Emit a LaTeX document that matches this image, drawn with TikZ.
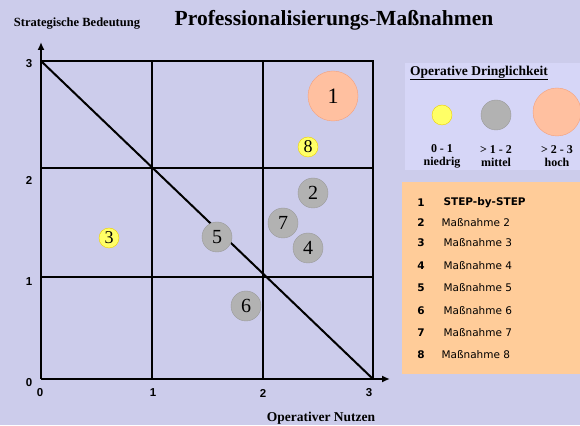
\documentclass[tikz,border=0pt]{standalone}
\usepackage{fontspec}
\setmainfont{Liberation Serif}
\newfontfamily\listfont{DejaVu Sans}
\newfontfamily\tickfont{Liberation Sans}
\usepackage{tikz}
\usetikzlibrary{arrows.meta}

\definecolor{bg}{HTML}{CCCCEB}
\definecolor{legendbg}{HTML}{D6D6F7}
\definecolor{peach}{HTML}{FFCC99}
\definecolor{orangefill}{HTML}{FFC0A0}
\definecolor{orangeedge}{HTML}{F4A07C}
\definecolor{yellowfill}{HTML}{FFFF66}
\definecolor{yellowedge}{HTML}{EED000}
\definecolor{greyfill}{HTML}{B2B2B2}
\definecolor{greyedge}{HTML}{9A9A9A}

\begin{document}
\begin{tikzpicture}[x = 1pt, y = 1pt,
  gridline/.style = {line width = 2pt},
  tick/.style = {font = \tickfont\bfseries\fontsize{11.5}{11.5}\selectfont},
  lowdot/.style = {circle, fill = yellowfill, draw = yellowedge, minimum size = 20pt, inner sep = 0pt, font = \fontsize{18}{18}\selectfont},
  middot/.style = {circle, fill = greyfill, draw = greyedge, minimum size = 30pt, inner sep = 0pt, font = \fontsize{20}{20}\selectfont},
  highdot/.style = {circle, fill = orangefill, draw = orangeedge, minimum size = 50pt, inner sep = 0pt, font = \fontsize{22}{22}\selectfont},
  legendtext/.style = {font = \bfseries\fontsize{12}{12}\selectfont, align = center},
  nr/.style = {font = \listfont\bfseries\fontsize{10.5}{10.5}\selectfont},
  item/.style = {anchor = west, font = \listfont\fontsize{10.5}{10.5}\selectfont}]
\fill [bg] (0,0) rectangle (580,425);
\useasboundingbox (0,0) rectangle (580,425);

% titles
\node (title) at (334, 405) {\bfseries\fontsize{21.5}{21.5}\selectfont Professionalisierungs-Maßnahmen};
\node (ylabel) at (77, 401) {\bfseries\fontsize{12.5}{12.5}\selectfont Strategische Bedeutung};
\node (xlabel) at (321, 7) {\bfseries\fontsize{13.5}{13.5}\selectfont Operativer Nutzen};

% grid
\draw [gridline] (41,364) -- (373,364) -- (373,46);
\draw [gridline] (152,364) -- (152,46);
\draw [gridline] (263,364) -- (263,46);
\draw [gridline] (41,257) -- (373,257);
\draw [gridline] (41,148) -- (373,148);
\draw [gridline] (41,364) -- (373,46);
\draw [gridline, -{Latex[length = 8pt, width = 7pt]}] (41,46) -- (41,383);
\draw [gridline, -{Latex[length = 8pt, width = 7pt]}] (41,46) -- (390,46);

\node [tick] (y3) at (29, 361) {3};
\node [tick] (y2) at (29, 245) {2};
\node [tick] (y1) at (29, 143) {1};
\node [tick] (y0) at (29, 42) {0};
\node [tick] (x0) at (40, 32) {0};
\node [tick] (x1) at (153, 32) {1};
\node [tick] (x2) at (263, 32) {2};
\node [tick] (x3) at (369, 32) {3};

% measures
\node [highdot] (m1) at (333, 329) {1};
\node [lowdot] (m8) at (308, 278) {8};
\node [middot] (m2) at (313, 232) {2};
\node [middot] (m7) at (283, 202) {7};
\node [middot] (m4) at (308, 177) {4};
\node [middot] (m5) at (217, 188) {5};
\node [middot] (m6) at (246, 119) {6};
\node [lowdot] (m3) at (109, 187) {3};

% legend
\fill [legendbg] (405,362) rectangle (580,255);
\node (legendtitle) at (479, 352) {\bfseries\fontsize{13.5}{13.5}\selectfont \underline{Operative Dringlichkeit}};
\node [lowdot] (low) at (442, 310) {};
\node [middot] (mid) at (496, 310) {};
\node [highdot, minimum size = 48pt] (high) at (557, 313) {};
\node [legendtext] (lowtext) at (442, 269) {0 - 1\\[1pt] niedrig};
\node [legendtext] (midtext) at (496, 269) {> 1 - 2\\[1pt] mittel};
\node [legendtext] (hightext) at (557, 269) {> 2 - 3\\[1pt] hoch};

% list
\fill [peach] (402,243) rectangle (580,51);
\node [nr] (n1) at (421, 222) {1}; \node [item, font = \listfont\bfseries\fontsize{10.5}{10.5}\selectfont] (t1) at (440, 222) {STEP-by-STEP};
\node [nr] (n2) at (421, 202) {2}; \node [item] (t2) at (438, 202) {Maßnahme 2};
\node [nr] (n3) at (421, 182) {3}; \node [item] (t3) at (440, 182) {Maßnahme 3};
\node [nr] (n4) at (421, 159) {4}; \node [item] (t4) at (440, 159) {Maßnahme 4};
\node [nr] (n5) at (421, 137) {5}; \node [item] (t5) at (440, 137) {Maßnahme 5};
\node [nr] (n6) at (421, 114) {6}; \node [item] (t6) at (440, 114) {Maßnahme 6};
\node [nr] (n7) at (421, 92) {7}; \node [item] (t7) at (440, 92) {Maßnahme 7};
\node [nr] (n8) at (421, 70) {8}; \node [item] (t8) at (438, 70) {Maßnahme 8};
\end{tikzpicture}
\end{document}
